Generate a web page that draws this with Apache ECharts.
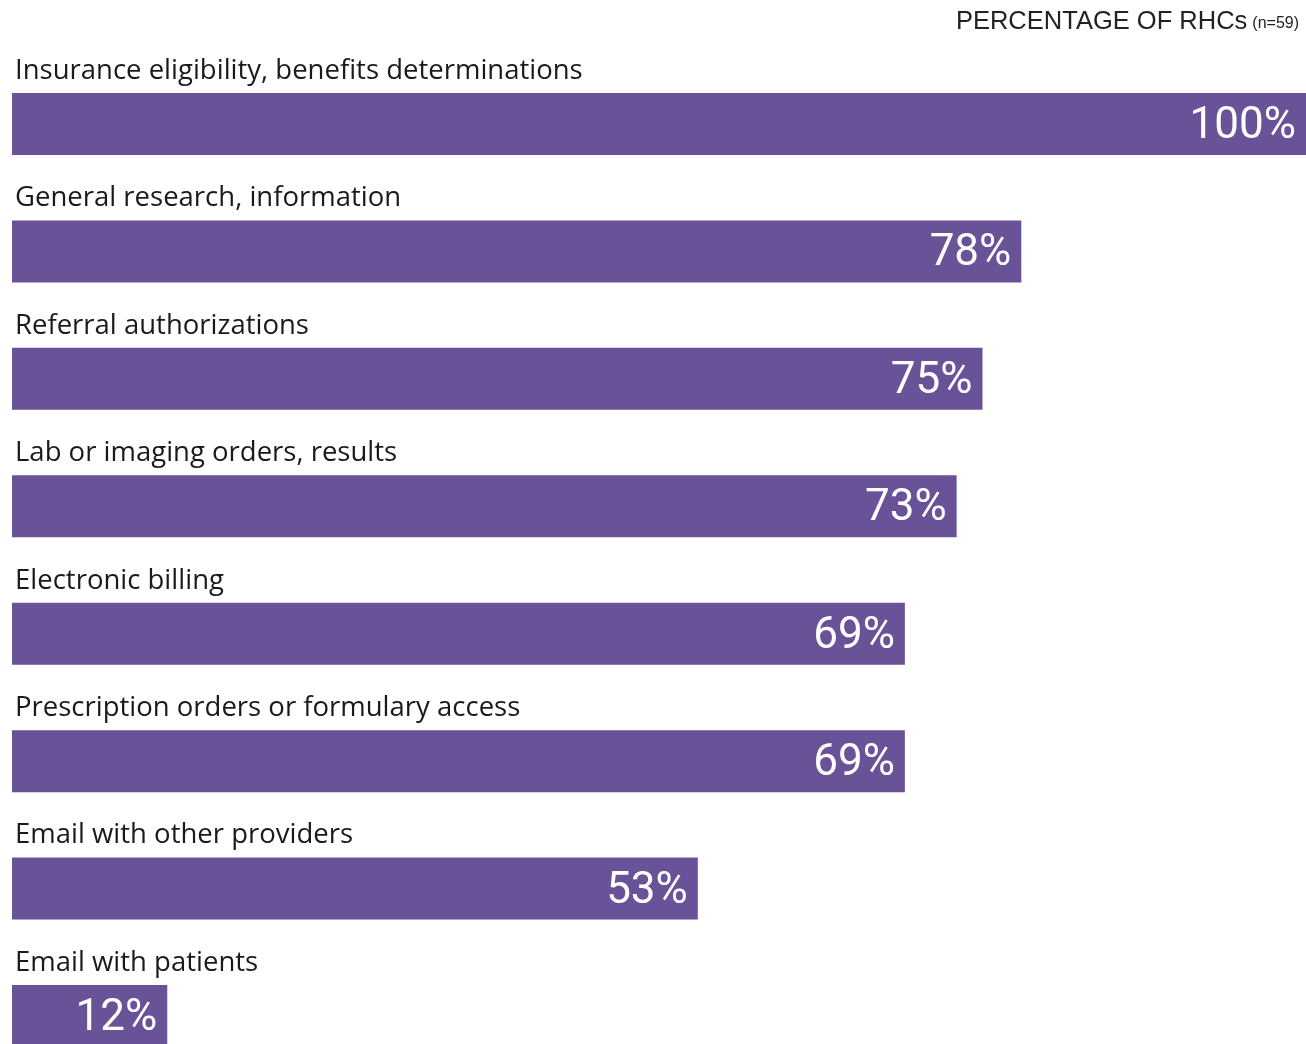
<!DOCTYPE html>
<html><head><meta charset="utf-8">
<script src="https://cdn.jsdelivr.net/npm/echarts@6/dist/echarts.min.js"></script>
<style>html,body{margin:0;padding:0;background:#fff;overflow:hidden}#c{width:1306px;height:1100px}</style>
</head><body><div id="c"></div>
<script>
const categories = [
  "Insurance eligibility, benefits determinations",
  "General research, information",
  "Referral authorizations",
  "Lab or imaging orders, results",
  "Electronic billing",
  "Prescription orders or formulary access",
  "Email with other providers",
  "Email with patients"
];
const values = [100, 78, 75, 73, 69, 69, 53, 12];
const titleMain = "PERCENTAGE OF RHCs";
const titleNote = "(n=59)";

const chart = echarts.init(document.getElementById('c'));
chart.setOption({
  animation: false,
  title: {
    text: '{a|' + titleMain + '} {b|' + titleNote + '}',
    right: 2, top: 4,
    textStyle: {
      fontWeight: 'normal',
      rich: {
        a: {fontFamily: 'Liberation Sans', fontSize: 25.5, fontWeight: 'normal', color: '#222'},
        b: {fontFamily: 'Liberation Sans', fontSize: 16, fontWeight: 'normal', color: '#222', padding: [4,0,0,0]}
      }
    }
  },
  grid: {left: 12, right: 0, top: 60.3, height: 1019.4},
  xAxis: {type: 'value', min: 0, max: 100, show: false},
  yAxis: {
    type: 'category', data: categories, inverse: true,
    axisLine: {show: false}, axisTick: {show: false}, splitLine: {show: false},
    axisLabel: {show: false}
  },
  series: [{
    type: 'bar', data: values, barWidth: 62,
    itemStyle: {color: '#6a5298'},
    label: {
      show: true, position: 'insideRight', distance: 10, offset: [0, 3],
      formatter: '{c}%', color: '#fff', fontFamily: 'Roboto', fontSize: 44
    }
  }, {
    type: 'bar', data: values, barWidth: 62, barGap: '-100%',
    itemStyle: {color: 'rgba(0,0,0,0)'},
    silent: true,
    label: {
      show: true, position: 'insideTopLeft', distance: 0, offset: [3, -36],
      formatter: '{b}', color: '#1a1a1a', fontFamily: 'Open Sans', fontSize: 27.5
    }
  }]
});
</script></body></html>
